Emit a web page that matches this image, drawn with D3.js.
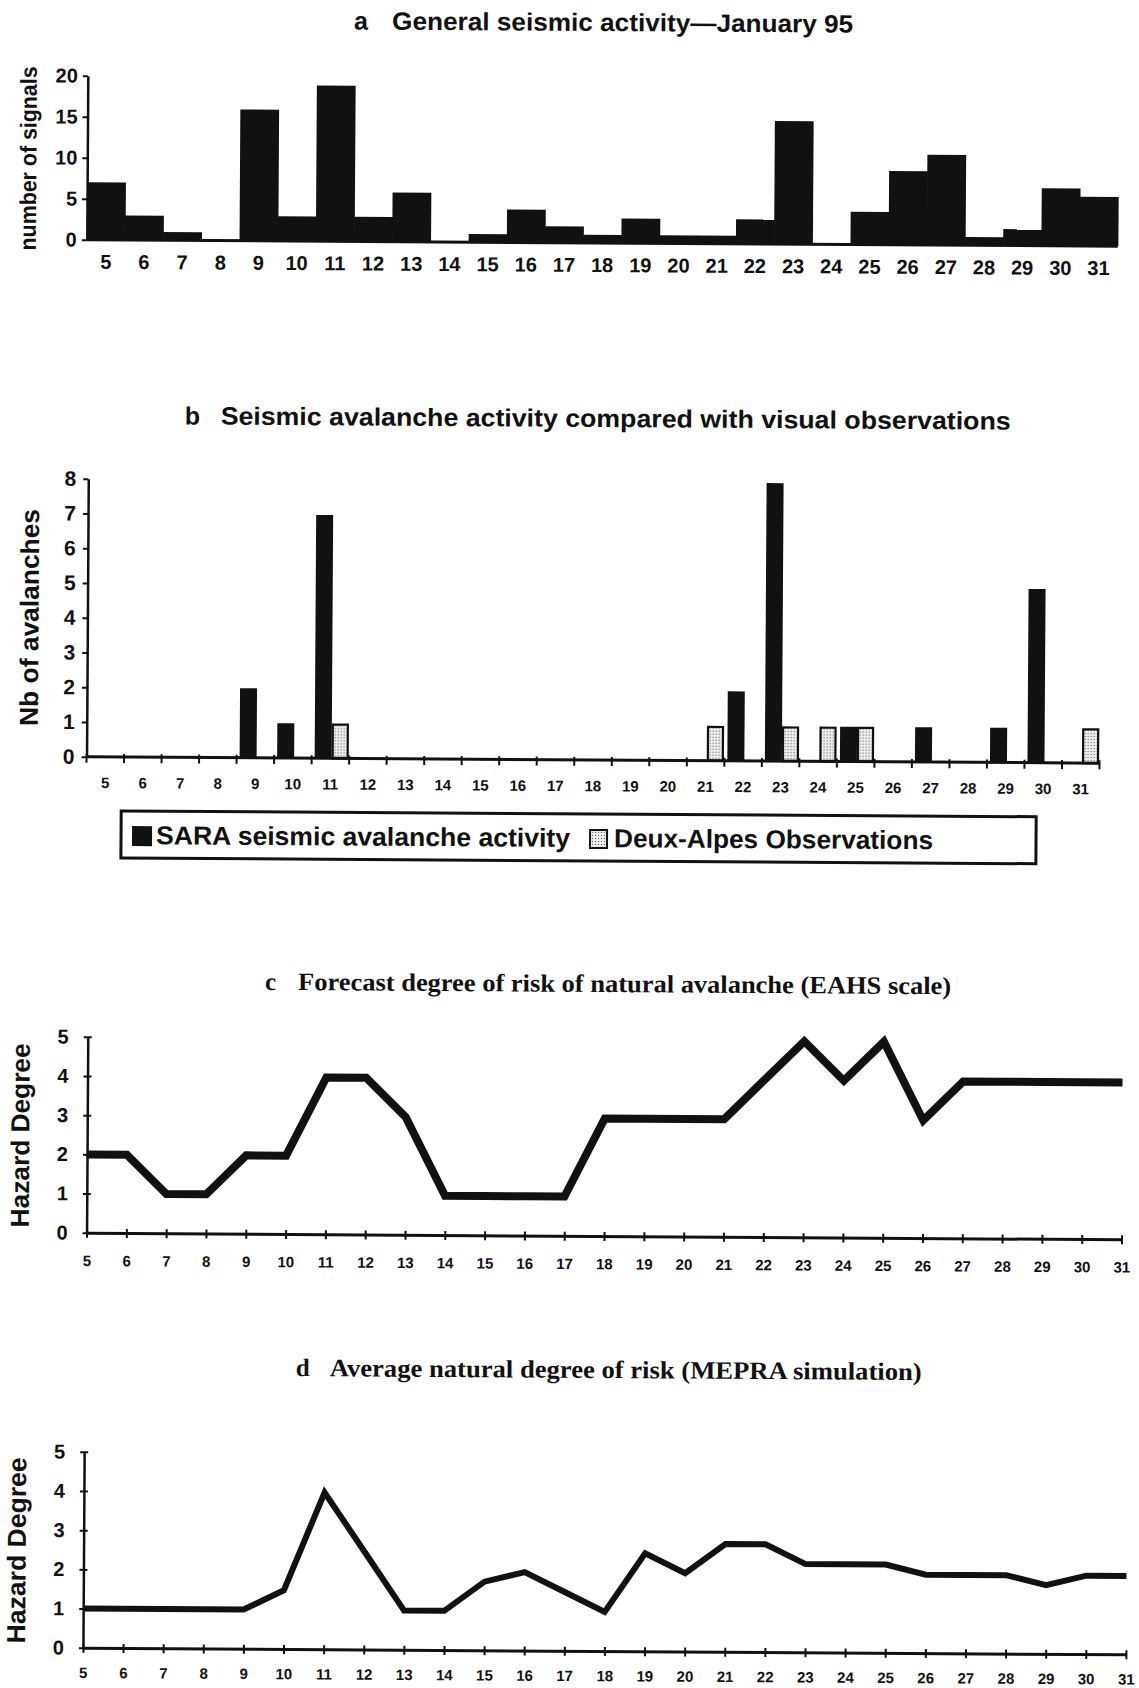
<!DOCTYPE html>
<html><head><meta charset="utf-8">
<script src="https://cdn.jsdelivr.net/npm/d3@7/dist/d3.min.js"></script>
<style>body{margin:0;background:#fff}svg{display:block}</style>
</head><body>
<svg id="chart" width="1139" height="1688"></svg>
<script>
// ---------- data ----------
const days = [5,6,7,8,9,10,11,12,13,14,15,16,17,18,19,20,21,22,23,24,25,26,27,28,29,30,31];
const signals = [7,3,1,0,16,3,19,3,6,0,1,4,2,1,3,1,1,3,15,0,4,9,11,1,2,7,6];
const saraAvalanches = [0,0,0,0,2,1,7,0,0,0,0,0,0,0,0,0,0,2,8,0,1,0,1,0,1,5,0];
const deuxAlpesObs   = [0,0,0,0,0,0,1,0,0,0,0,0,0,0,0,0,1,0,1,1,1,0,0,0,0,0,1];
const forecastRisk = [2,2,1,1,2,2,4,4,3,1,1,1,1,3,3,3,3,4,5,4,5,3,4,4,4,4,4];
const mepraRisk = [1,1,1,1,1,1.5,4,2.5,1,1,1.75,2,1.5,1,2.5,2,2.75,2.75,2.25,2.25,2.25,2,2,2,1.75,2,2];
const ticksA = [0,5,10,15,20];
const ticksB = [0,1,2,3,4,5,6,7,8];
const ticksHazard = [0,1,2,3,4,5];
const seriesNames = ["SARA seismic avalanche activity","Deux-Alpes Observations"];

// ---------- setup ----------
const ink = "#111";
const sans = '"Liberation Sans", Arial, Helvetica, sans-serif';
const serif = '"Liberation Serif", "Times New Roman", serif';
const svg = d3.select("#chart");
const defs = svg.append("defs");
const pat = defs.append("pattern").attr("id","dots").attr("width",3).attr("height",3).attr("patternUnits","userSpaceOnUse");
pat.append("rect").attr("width",3).attr("height",3).attr("fill","#ececec");
pat.append("rect").attr("x",1).attr("y",1).attr("width",1).attr("height",1).attr("fill","#555");

svg.append("rect").attr("width",1139).attr("height",1688).attr("fill","#fff");
const root = svg.append("g").attr("transform","rotate(0.36,600,844)");
const intFmt = d3.format("d");

function title(prefix, text, px, tx, len, y, font, fs) {
  root.append("text").attr("x",px).attr("y",y).attr("font-family",font).attr("font-weight","bold")
    .attr("font-size",fs).attr("fill",ink).text(prefix);
  root.append("text").attr("x",tx).attr("y",y).attr("font-family",font).attr("font-weight","bold")
    .attr("font-size",fs).attr("fill",ink).attr("textLength",len).attr("lengthAdjust","spacingAndGlyphs").text(text);
}
function ylabel(text, cx, cy, fs, len) {
  root.append("text").attr("transform",`translate(${cx},${cy}) rotate(-90)`).attr("text-anchor","middle")
    .attr("dy","0.35em").attr("font-family",sans).attr("font-weight","bold").attr("font-size",fs)
    .attr("fill",ink).attr("textLength",len).attr("lengthAdjust","spacingAndGlyphs").text(text);
}
function styleAxis(g, fs, sw) {
  g.selectAll("path.domain").attr("stroke",ink).attr("stroke-width",sw);
  g.selectAll(".tick line").attr("stroke",ink).attr("stroke-width",2);
  g.selectAll(".tick text").attr("fill",ink).attr("font-family",sans).attr("font-weight","bold").attr("font-size",fs);
}

// ---------- chart a ----------
title("a", "General seismic activity\u2014January 95", 349, 387, 461, 31, sans, 25);
const xA = d3.scaleBand().domain(days).range([83,1114]).padding(0);
const yA = d3.scaleLinear().domain([0,20]).range([243,79]);
const gA = root.append("g");
gA.selectAll("rect").data(days).join("rect")
  .attr("x",d=>xA(d)).attr("width",xA.bandwidth()+0.6)
  .attr("y",(d,i)=>yA(signals[i])).attr("height",(d,i)=>yA(0)-yA(signals[i])).attr("fill",ink);
gA.append("line").attr("x1",xA.range()[0]).attr("x2",xA.range()[1]).attr("y1",yA(0)).attr("y2",yA(0))
  .attr("stroke",ink).attr("stroke-width",3);
const axA = gA.append("g").attr("transform",`translate(${xA.range()[0]},0)`)
  .call(d3.axisLeft(yA).tickValues(ticksA).tickFormat(intFmt).tickSize(5).tickSizeOuter(0).tickPadding(5));
styleAxis(axA, 20, 2.5);
const axAx = gA.append("g").attr("transform",`translate(0,${yA(0)})`)
  .call(d3.axisBottom(xA).tickSize(0));
axAx.select("path.domain").remove();
styleAxis(axAx, 20, 0);
axAx.selectAll(".tick text").attr("y",22).attr("dy","0.35em");
ylabel("number of signals", 24, 162, 23, 184);

// ---------- chart b ----------
title("b", "Seismic avalanche activity compared with visual observations", 182, 218, 790, 427, sans, 25);
const xB = d3.scaleBand().domain(days).range([86,1099]).padding(0);
const xB1 = d3.scaleBand().domain(["sara","obs"]).range([3,37]).padding(0);
const yB = d3.scaleLinear().domain([0,8]).range([760,482]);
const gB = root.append("g");
gB.selectAll("rect.sara").data(days.filter((d,i)=>saraAvalanches[i]>0)).join("rect").attr("class","sara")
  .attr("x",d=>xB(d)+xB1("sara")).attr("width",xB1.bandwidth())
  .attr("y",d=>yB(saraAvalanches[days.indexOf(d)]))
  .attr("height",d=>yB(0)-yB(saraAvalanches[days.indexOf(d)])).attr("fill",ink);
gB.selectAll("rect.obs").data(days.filter((d,i)=>deuxAlpesObs[i]>0)).join("rect").attr("class","obs")
  .attr("x",d=>xB(d)+xB1("obs")+1).attr("width",xB1.bandwidth()-2)
  .attr("y",d=>yB(deuxAlpesObs[days.indexOf(d)])+1)
  .attr("height",d=>yB(0)-yB(deuxAlpesObs[days.indexOf(d)])-1)
  .attr("fill","url(#dots)").attr("stroke",ink).attr("stroke-width",2.2);
gB.append("line").attr("x1",xB.range()[0]).attr("x2",xB.range()[1]).attr("y1",yB(0)).attr("y2",yB(0))
  .attr("stroke",ink).attr("stroke-width",3);
gB.selectAll("line.xt").data(days.map(d=>xB(d)).concat([xB.range()[1]])).join("line").attr("class","xt")
  .attr("x1",d=>d).attr("x2",d=>d).attr("y1",yB(0)-3).attr("y2",yB(0)+6).attr("stroke",ink).attr("stroke-width",2);
const axB = gB.append("g").attr("transform",`translate(${xB.range()[0]},0)`)
  .call(d3.axisLeft(yB).tickValues(ticksB).tickFormat(intFmt).tickSize(5).tickSizeOuter(0).tickPadding(7));
styleAxis(axB, 21, 2.5);
const axBx = gB.append("g").attr("transform",`translate(0,${yB(0)})`)
  .call(d3.axisBottom(xB).tickSize(0));
axBx.select("path.domain").remove();
styleAxis(axBx, 15, 0);
axBx.selectAll(".tick text").attr("y",26).attr("dy","0.35em");
ylabel("Nb of avalanches", 28, 621, 26, 217);

// legend
const leg = root.append("g");
leg.append("rect").attr("x",121).attr("y",814).attr("width",915).attr("height",47)
  .attr("fill","none").attr("stroke",ink).attr("stroke-width",3);
leg.append("rect").attr("x",132).attr("y",829).attr("width",20).attr("height",20).attr("fill",ink);
leg.append("text").attr("x",156).attr("y",838).attr("dy","0.35em").attr("font-family",sans).attr("font-weight","bold")
  .attr("font-size",26).attr("fill",ink).attr("textLength",414).attr("lengthAdjust","spacingAndGlyphs").text(seriesNames[0]);
leg.append("rect").attr("x",590).attr("y",830).attr("width",17).attr("height",18)
  .attr("fill","url(#dots)").attr("stroke",ink).attr("stroke-width",2);
leg.append("text").attr("x",614).attr("y",838).attr("dy","0.35em").attr("font-family",sans).attr("font-weight","bold")
  .attr("font-size",26).attr("fill",ink).attr("textLength",319).attr("lengthAdjust","spacingAndGlyphs").text(seriesNames[1]);

// ---------- line charts ----------
function lineChart(values, x0, x1, y0, y5, sw, labelY, titleArgs, ylab) {
  title(...titleArgs);
  const x = d3.scalePoint().domain(days).range([x0,x1]);
  const y = d3.scaleLinear().domain([0,5]).range([y0,y5]);
  const g = root.append("g");
  const ax = g.append("g").attr("transform",`translate(${x0},0)`)
    .call(d3.axisLeft(y).tickValues(ticksHazard).tickFormat(intFmt).tickSize(4).tickSizeOuter(0).tickPadding(15));
  styleAxis(ax, 20, 2.5);
  ax.selectAll(".tick line").attr("x1",4);
  const axx = g.append("g").attr("transform",`translate(0,${y0})`)
    .call(d3.axisBottom(x).tickSize(5).tickSizeOuter(0));
  styleAxis(axx, 15, 3);
  axx.selectAll(".tick line").attr("y1",-4);
  axx.selectAll(".tick text").attr("y",labelY - y0).attr("dy","0.35em");
  g.append("path").datum(values)
    .attr("d", d3.line().x((d,i)=>x(days[i])).y(d=>y(d)))
    .attr("fill","none").attr("stroke",ink).attr("stroke-width",sw)
    .attr("stroke-linejoin","miter").attr("stroke-miterlimit",3);
  ylabel(...ylab);
}
lineChart(forecastRisk, 89, 1124, 1236, 1040, 8, 1264,
  ["c", "Forecast degree of risk of natural avalanche (EAHS scale)", 266, 299, 653, 992, serif, 25],
  ["Hazard Degree", 22, 1139, 26, 184]);
lineChart(mepraRisk, 88, 1131, 1651, 1455, 6, 1676,
  ["d", "Average natural degree of risk (MEPRA simulation)", 299, 333, 592, 1378, serif, 25],
  ["Hazard Degree", 21, 1554, 26, 186]);
</script>
</body></html>
